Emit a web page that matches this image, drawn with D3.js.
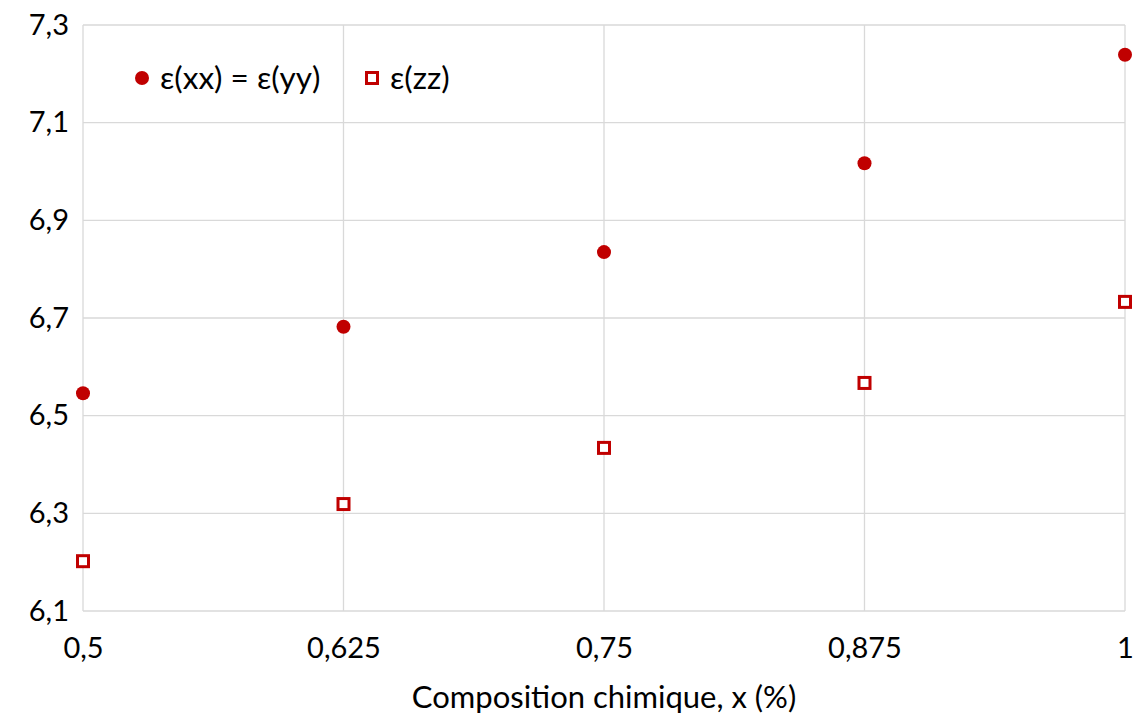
<!DOCTYPE html>
<html><head><meta charset="utf-8">
<script src="https://cdn.jsdelivr.net/npm/d3@7"></script>
<style>body{margin:0;background:#fff;} text{font-family:Lato, "Open Sans", sans-serif;}</style>
</head><body><svg id="c" width="1136" height="716"></svg>
<script>
const xValues = [0.5, 0.625, 0.75, 0.875, 1];
const epsXX = [6.546, 6.682, 6.835, 7.017, 7.239];
const epsZZ = [6.202, 6.319, 6.434, 6.567, 6.733];
const yTicks = [6.1, 6.3, 6.5, 6.7, 6.9, 7.1, 7.3];
const xTicks = [0.5, 0.625, 0.75, 0.875, 1];
const seriesNames = ["ε(xx) = ε(yy)", "ε(zz)"];
const xTitle = "Composition chimique, x (%)";

const svg = d3.select("#c");
const m = {l: 83, r: 1125, t: 25, b: 611};
const x = d3.scaleLinear().domain([0.5, 1]).range([m.l, m.r]);
const y = d3.scaleLinear().domain([6.1, 7.3]).range([m.b, m.t]);
const red = "#c00000";
const fmt = d => String(d).replace(".", ",");

// grid
svg.append("g").selectAll("line").data(yTicks).join("line")
  .attr("x1", m.l).attr("x2", m.r).attr("y1", d => y(d)).attr("y2", d => y(d))
  .attr("stroke", "#d9d9d9").attr("stroke-width", 1.3);
svg.append("g").selectAll("line").data(xTicks).join("line")
  .attr("y1", m.t).attr("y2", m.b).attr("x1", d => x(d)).attr("x2", d => x(d))
  .attr("stroke", "#d9d9d9").attr("stroke-width", 1.3);

// axes labels
const yAxis = d3.axisLeft(y).tickValues(yTicks).tickFormat(fmt).tickSize(0).tickPadding(14);
const gy = svg.append("g").attr("transform", `translate(${m.l},0)`).call(yAxis);
gy.select(".domain").remove();
gy.selectAll("text").attr("font-size", 29).attr("fill", "#000").attr("font-family", "Lato, sans-serif");

const xAxis = d3.axisBottom(x).tickValues(xTicks).tickFormat(fmt).tickSize(0).tickPadding(26);
const gx = svg.append("g").attr("transform", `translate(0,${m.b})`).call(xAxis);
gx.select(".domain").remove();
gx.selectAll("text").attr("font-size", 29).attr("fill", "#000").attr("font-family", "Lato, sans-serif");

svg.append("text").attr("x", 604).attr("y", 708).attr("text-anchor", "middle")
  .attr("font-size", 31).attr("fill", "#000").text(xTitle);

// series
svg.append("g").selectAll("circle").data(xValues).join("circle")
  .attr("cx", d => x(d)).attr("cy", (d, i) => y(epsXX[i])).attr("r", 7).attr("fill", red);
svg.append("g").selectAll("rect").data(xValues).join("rect")
  .attr("x", d => x(d) - 5.5).attr("y", (d, i) => y(epsZZ[i]) - 5.5)
  .attr("width", 11).attr("height", 11).attr("fill", "#fff").attr("stroke", red).attr("stroke-width", 3);

// legend
const lg = svg.append("g");
lg.append("circle").attr("cx", 142).attr("cy", 78).attr("r", 7).attr("fill", red);
lg.append("text").attr("x", 160).attr("y", 89).attr("font-size", 31.5).attr("fill", "#000").text(seriesNames[0]);
lg.append("rect").attr("x", 366.5).attr("y", 72.5).attr("width", 11).attr("height", 11)
  .attr("fill", "#fff").attr("stroke", red).attr("stroke-width", 3);
lg.append("text").attr("x", 390).attr("y", 89).attr("font-size", 31.5).attr("fill", "#000").text(seriesNames[1]);
</script></body></html>
